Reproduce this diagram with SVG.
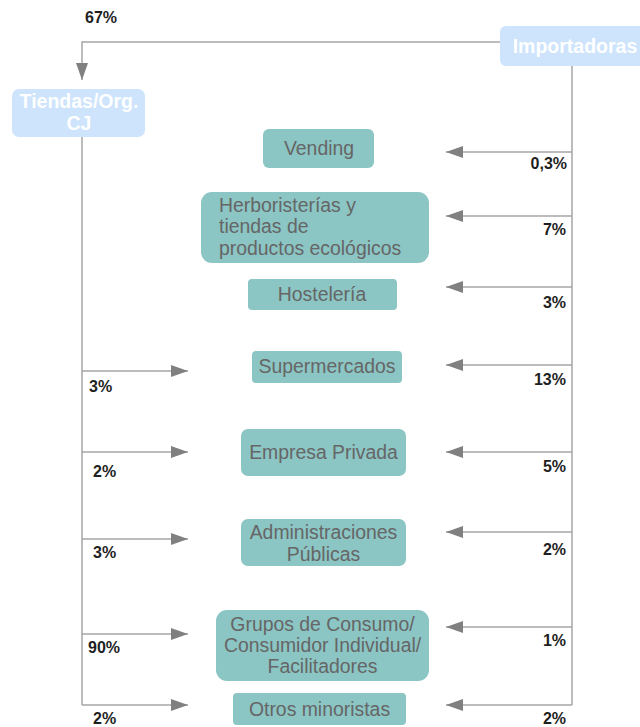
<svg xmlns="http://www.w3.org/2000/svg" width="640" height="727" viewBox="0 0 640 727">
<defs>
<style>
.src{fill:#cde4fc}
.src-t{fill:#ffffff;font-family:"Liberation Sans",Arial,sans-serif;font-size:19.5px;font-weight:bold;text-anchor:middle}
.box{fill:#8bc5c4}
.box-t{fill:#666666;font-family:"Liberation Sans",Arial,sans-serif;font-size:19.4px;text-anchor:middle}
.lbl{fill:#1f1f1f;font-family:"Liberation Sans",Arial,sans-serif;font-size:16px;font-weight:bold}
.r{text-anchor:end}
.con{fill:none;stroke:#a6a6a6;stroke-width:1.5}
</style>
<marker id="ah" viewBox="0 0 17 12" refX="17" refY="6" markerWidth="17" markerHeight="12" markerUnits="userSpaceOnUse" orient="auto">
<path d="M0,0 L17,6 L0,12 z" fill="#808080"/>
</marker>
</defs>
<rect width="640" height="727" fill="#ffffff"/>

<g id="connectors">
<path class="con" d="M500,42 H82 V80" marker-end="url(#ah)"/>
<path class="con" d="M82,137 V705"/>
<path class="con" d="M572,66 V705"/>
<line class="con" x1="82" y1="371" x2="188" y2="371" marker-end="url(#ah)"/>
<line class="con" x1="82" y1="452" x2="188" y2="452" marker-end="url(#ah)"/>
<line class="con" x1="82" y1="539" x2="188" y2="539" marker-end="url(#ah)"/>
<line class="con" x1="82" y1="634" x2="188" y2="634" marker-end="url(#ah)"/>
<line class="con" x1="82" y1="705" x2="188" y2="705" marker-end="url(#ah)"/>
<line class="con" x1="572" y1="152" x2="446" y2="152" marker-end="url(#ah)"/>
<line class="con" x1="572" y1="216" x2="446" y2="216" marker-end="url(#ah)"/>
<line class="con" x1="572" y1="287" x2="446" y2="287" marker-end="url(#ah)"/>
<line class="con" x1="572" y1="365" x2="446" y2="365" marker-end="url(#ah)"/>
<line class="con" x1="572" y1="452" x2="446" y2="452" marker-end="url(#ah)"/>
<line class="con" x1="572" y1="532" x2="446" y2="532" marker-end="url(#ah)"/>
<line class="con" x1="572" y1="627" x2="446" y2="627" marker-end="url(#ah)"/>
<line class="con" x1="572" y1="705" x2="446" y2="705" marker-end="url(#ah)"/>
</g>

<g id="labels">
<text class="lbl" x="85" y="23">67%</text>
<text class="lbl r" x="567" y="169">0,3%</text>
<text class="lbl r" x="566" y="235">7%</text>
<text class="lbl r" x="566" y="308">3%</text>
<text class="lbl r" x="566" y="385">13%</text>
<text class="lbl r" x="566" y="472">5%</text>
<text class="lbl r" x="566" y="555">2%</text>
<text class="lbl r" x="566" y="646">1%</text>
<text class="lbl r" x="566" y="724">2%</text>
<text class="lbl" x="89" y="392">3%</text>
<text class="lbl" x="93" y="477">2%</text>
<text class="lbl" x="93" y="558">3%</text>
<text class="lbl" x="88" y="653">90%</text>
<text class="lbl" x="93" y="724">2%</text>
</g>

<g id="importadoras">
<rect class="src" x="500" y="26" width="146" height="40" rx="6"/>
<text class="src-t" x="575" y="53">Importadoras</text>
</g>

<g id="tiendas">
<rect class="src" x="12" y="89" width="133" height="48" rx="7"/>
<text class="src-t" x="79" y="108">Tiendas/Org.</text>
<text class="src-t" x="79" y="130">CJ</text>
</g>

<g id="vending">
<rect class="box" x="263" y="129" width="111" height="39" rx="6"/>
<text class="box-t" x="319" y="155">Vending</text>
</g>

<g id="herboristerias">
<rect class="box" x="201" y="192" width="228" height="71" rx="11"/>
<text class="box-t" x="219" y="212" style="text-anchor:start">Herboristerías y</text>
<text class="box-t" x="219" y="233" style="text-anchor:start">tiendas de</text>
<text class="box-t" x="219" y="255" style="text-anchor:start">productos ecológicos</text>
</g>

<g id="hosteleria">
<rect class="box" x="248" y="279" width="149" height="31" rx="4"/>
<text class="box-t" x="322" y="301">Hostelería</text>
</g>

<g id="supermercados">
<rect class="box" x="252" y="351" width="150" height="32" rx="4"/>
<text class="box-t" x="327" y="373">Supermercados</text>
</g>

<g id="empresa-privada">
<rect class="box" x="241" y="429" width="165" height="47" rx="7"/>
<text class="box-t" x="323.5" y="459">Empresa Privada</text>
</g>

<g id="administraciones">
<rect class="box" x="241" y="519" width="165" height="47" rx="7"/>
<text class="box-t" x="323.5" y="539">Administraciones</text>
<text class="box-t" x="323.5" y="561">Públicas</text>
</g>

<g id="grupos-consumo">
<rect class="box" x="216" y="610" width="213" height="71" rx="11"/>
<text class="box-t" x="322.5" y="631">Grupos de Consumo/</text>
<text class="box-t" x="322.5" y="652">Consumidor Individual/</text>
<text class="box-t" x="322.5" y="673">Facilitadores</text>
</g>

<g id="otros-minoristas">
<rect class="box" x="233" y="693" width="173" height="32" rx="4"/>
<text class="box-t" x="319.5" y="716">Otros minoristas</text>
</g>
</svg>
